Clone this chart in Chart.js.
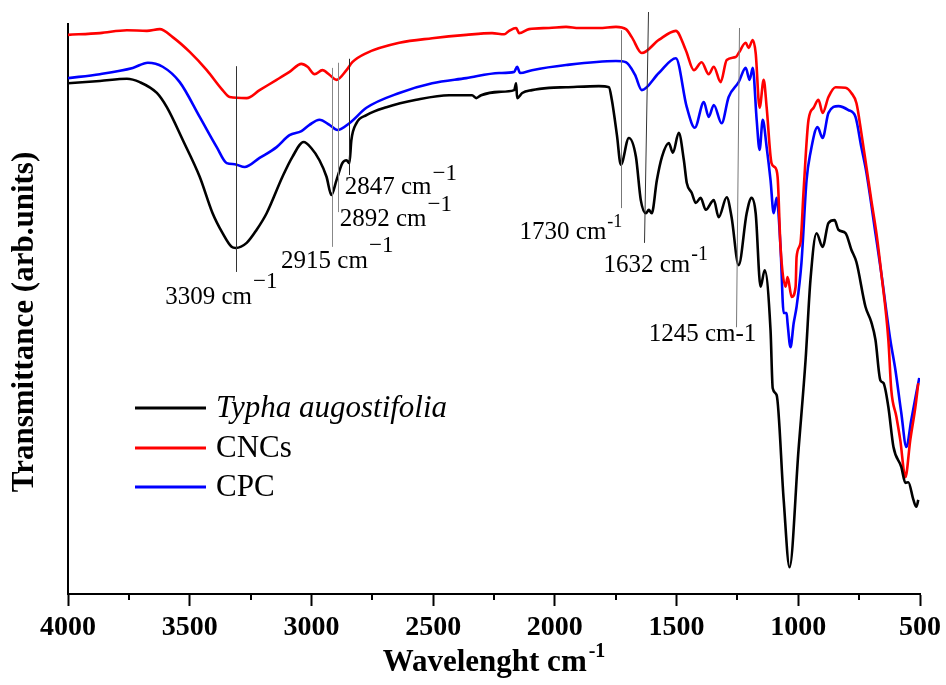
<!DOCTYPE html>
<html>
<head>
<meta charset="utf-8">
<script src="https://cdn.jsdelivr.net/npm/chart.js@4.4.0/dist/chart.umd.min.js"></script>
<style>
  html, body { margin: 0; padding: 0; background: #ffffff; }
  #wrap { width: 946px; height: 685px; }
</style>
</head>
<body>
<div id="wrap"><canvas id="ftir" width="946" height="685"></canvas></div>
<script>
// FTIR spectra: wavenumber (cm-1) and transmittance (arb. units)
const typhaWn = [4000,3869,3758,3705,3635,3594,3528,3459,3406,3365,3328,3311,3266,3225,3184,3119,3078,3032,3000,2967,2938,2918,2897,2873,2856,2844,2836,2815,2774,2692,2569,2434,2340,2323,2303,2229,2167,2159,2155,2134,2094,2024,1954,1819,1778,1766,1745,1729,1696,1667,1647,1626,1614,1602,1581,1560,1532,1515,1491,1470,1458,1438,1421,1401,1380,1347,1327,1294,1274,1245,1212,1192,1175,1155,1138,1114,1105,1089,1060,1036,999,970,950,925,900,876,851,835,806,782,761,724,700,683,663,650,630,609,577,560,548,527,515,507];
const typhaT = [89.6,90.0,90.4,89.8,87.9,85.4,79.6,73.2,66.8,63.3,60.9,60.7,61.6,63.9,66.8,73.2,76.7,79.3,78.2,76.1,73.2,70.0,72.6,75.6,76.1,75.6,79.6,82.6,84.0,85.4,86.7,87.5,87.5,87.0,87.5,88.1,88.4,89.6,87.0,87.9,88.4,88.8,88.9,89.1,88.9,86.7,80.5,75.3,80.0,76.7,69.1,66.8,67.4,66.8,72.6,76.7,79.1,77.4,80.9,76.1,72.1,70.4,68.6,69.5,67.4,69.1,66.1,69.6,66.1,57.7,66.8,69.5,66.8,53.9,56.8,46.3,36.1,34.9,16.5,4.7,25.3,41.1,55.1,63.3,60.9,65.1,65.6,63.9,63.3,60.4,58.2,50.4,47.7,44.6,37.5,37.0,32.8,25.8,22.3,19.5,19.6,16.5,15.3,16.5];

const cncWn = [4000,3869,3758,3676,3623,3570,3500,3430,3365,3336,3266,3213,3143,3090,3041,3016,2987,2955,2926,2897,2856,2832,2774,2639,2504,2364,2258,2208,2188,2159,2147,2106,2024,1954,1901,1819,1749,1708,1684,1643,1573,1503,1462,1429,1397,1368,1347,1319,1294,1257,1245,1216,1204,1187,1175,1159,1142,1130,1110,1097,1085,1073,1052,1044,1027,1011,1007,991,978,958,937,917,900,876,847,806,782,761,741,720,700,679,659,630,618,597,581,560,540,519,507];
const cncT = [98.1,98.4,98.9,98.8,99.1,97.7,95.1,91.9,88.4,87.2,87.0,88.4,90.2,91.6,93.0,92.5,91.2,91.9,91.1,90.2,91.9,93.3,94.9,96.7,97.5,98.1,98.4,98.2,98.8,99.3,98.4,99.1,99.3,99.5,99.3,99.3,99.5,99.1,97.7,94.9,97.2,98.8,95.4,91.9,93.3,91.2,92.5,89.8,93.7,94.2,94.9,96.7,95.8,97.2,94.9,85.3,90.2,85.4,75.6,74.9,73.2,60.9,53.9,55.6,52.1,53.9,59.1,61.6,70.9,83.2,85.3,86.7,84.4,87.2,88.9,88.8,87.9,86.1,80.9,74.9,69.1,63.3,56.3,44.6,35.8,31.1,27.0,20.5,27.0,32.8,37.0];

const cpcWn = [4000,3869,3734,3672,3611,3541,3459,3389,3348,3315,3274,3213,3143,3090,3041,3008,2967,2926,2893,2844,2774,2639,2504,2364,2229,2167,2155,2143,2094,1954,1749,1708,1671,1643,1573,1503,1458,1425,1388,1368,1347,1315,1286,1245,1216,1200,1187,1171,1159,1146,1130,1114,1101,1089,1073,1060,1048,1044,1032,1019,1007,987,966,950,921,900,876,835,794,765,741,720,683,659,622,601,577,556,536,515,503];
const cpcT = [90.5,91.2,92.3,93.2,92.5,89.8,83.7,78.4,75.6,75.4,74.9,76.5,78.4,80.5,81.2,82.3,83.2,82.3,81.4,82.6,85.3,87.9,89.6,90.5,91.4,91.6,92.5,91.4,91.9,92.8,93.5,93.3,91.1,88.4,91.4,94.0,85.4,81.8,86.3,83.7,85.8,82.6,87.2,89.8,92.3,90.2,92.3,83.2,77.9,83.2,78.4,72.6,66.8,69.5,60.9,49.3,49.3,47.5,43.3,47.5,50.4,58.1,72.6,77.4,81.9,80.0,84.4,85.6,84.9,83.7,78.4,73.9,63.3,56.3,44.6,39.3,31.8,25.8,30.5,35.3,37.9];

const seriesNames = ['Typha augostifolia', 'CNCs', 'CPC'];

// x-axis tick values (cm-1)
const majorTicks = [4000, 3500, 3000, 2500, 2000, 1500, 1000, 500];
const minorTicks = [3750, 3250, 2750, 2250, 1750, 1250, 750];

// assigned bands
const peakWn = [3309, 2915, 2892, 2847, 1730, 1632, 1245];
const peakText = ['3309 cm', '2915 cm', '2892 cm', '2847 cm', '1730 cm', '1632 cm', '1245 cm-1'];
const peakSup = ['\u22121', '\u22121', '\u22121', '\u22121', '-1', '-1', ''];

function pairs(xs, ys) {
  const n = Math.min(xs.length, ys.length);
  const out = [];
  for (let i = 0; i < n; i++) out.push({ x: xs[i], y: ys[i] });
  return out;
}

const SERIF = '"Liberation Serif", "Times New Roman", serif';

// leader line extents (transmittance units) and label placement around them
const leaderStyle = [
  { top: 92.6, bot: 56.5, color: '#333', dx: -71, dy: 25, sup: 23, supDy: -15 },
  { top: 92.3, bot: 60.9, color: '#888', dx: -51, dy: 15, sup: 23, supDy: -16 },
  { top: 93.2, bot: 67.0, color: '#888', dx: 2,   dy: 7,  sup: 23, supDy: -14 },
  { top: 93.9, bot: 73.5, color: '#222', dx: -4,  dy: 12, sup: 23, supDy: -13 },
  { top: 98.9, bot: 67.7, color: '#777', dx: -101, dy: 24, sup: 18, supDy: -10 },
  { top: 102.1, bot: 61.6, topWn: 1618, color: '#333', dx: -41, dy: 23, sup: 20, supDy: -11 },
  { top: 99.3, bot: 46.8, botWn: 1257, color: '#777', dx: -87, dy: 7, sup: 20, supDy: 0 }
];

const decorPlugin = {
  id: 'decor',
  afterDraw(chart) {
    const ctx = chart.ctx;
    const xs = chart.scales.x, ys = chart.scales.y;
    const area = chart.chartArea;
    ctx.save();

    // minor ticks
    ctx.strokeStyle = '#000';
    ctx.lineWidth = 2;
    minorTicks.forEach(v => {
      const px = Math.round(xs.getPixelForValue(v));
      ctx.beginPath();
      ctx.moveTo(px, area.bottom);
      ctx.lineTo(px, area.bottom + 6);
      ctx.stroke();
    });

    // band leaders and labels
    peakWn.forEach((wn, i) => {
      const st = leaderStyle[i];
      const xTop = xs.getPixelForValue(st.topWn || wn);
      const xBot = xs.getPixelForValue(st.botWn || wn);
      const yTop = ys.getPixelForValue(st.top);
      const yBot = ys.getPixelForValue(st.bot);
      ctx.strokeStyle = st.color;
      ctx.lineWidth = 1;
      ctx.beginPath();
      ctx.moveTo(Math.round(xTop) + 0.5, yTop);
      ctx.lineTo(Math.round(xBot) + 0.5, yBot);
      ctx.stroke();

      const lx = xBot + st.dx;
      const ly = yBot + st.dy;
      ctx.fillStyle = '#000';
      ctx.textBaseline = 'middle';
      ctx.textAlign = 'left';
      ctx.font = '25px ' + SERIF;
      ctx.fillText(peakText[i], lx, ly);
      if (peakSup[i]) {
        const w = ctx.measureText(peakText[i]).width;
        ctx.font = st.sup + 'px ' + SERIF;
        ctx.fillText(peakSup[i], lx + w + 1, ly + st.supDy);
      }
    });

    // legend
    const colors = chart.data.datasets.map(d => d.borderColor);
    const rowY = [408, 448, 487];
    chart.data.datasets.forEach((d, i) => {
      ctx.strokeStyle = colors[i];
      ctx.lineWidth = 3;
      ctx.beginPath();
      ctx.moveTo(135, rowY[i]);
      ctx.lineTo(206, rowY[i]);
      ctx.stroke();
      ctx.fillStyle = '#000';
      ctx.textBaseline = 'middle';
      ctx.textAlign = 'left';
      ctx.font = (i === 0 ? 'italic ' : '') + '31px ' + SERIF;
      ctx.fillText(d.label, 216, rowY[i] + 1);
    });

    // x-axis title with superscript
    const cx = (area.left + area.right) / 2;
    ctx.font = 'bold 31px ' + SERIF;
    const mainT = 'Wavelenght cm';
    const wMain = ctx.measureText(mainT).width;
    ctx.font = 'bold 20px ' + SERIF;
    const wSup = ctx.measureText('-1').width;
    const x0 = cx - (wMain + wSup + 2) / 2;
    ctx.fillStyle = '#000';
    ctx.textBaseline = 'middle';
    ctx.font = 'bold 31px ' + SERIF;
    ctx.fillText(mainT, x0, 663);
    ctx.font = 'bold 20px ' + SERIF;
    ctx.fillText('-1', x0 + wMain + 2, 652);

    // y-axis title
    ctx.translate(33, (area.top + area.bottom) / 2 + 13);
    ctx.rotate(-Math.PI / 2);
    ctx.textAlign = 'center';
    ctx.textBaseline = 'alphabetic';
    ctx.font = 'bold 31px ' + SERIF;
    ctx.fillText('Transmittance (arb.units)', 0, 0);

    ctx.restore();
  }
};

new Chart(document.getElementById('ftir'), {
  type: 'line',
  data: {
    datasets: [
      { label: seriesNames[0], data: pairs(typhaWn, typhaT), borderColor: '#000000' },
      { label: seriesNames[1], data: pairs(cncWn, cncT), borderColor: '#ff0000' },
      { label: seriesNames[2], data: pairs(cpcWn, cpcT), borderColor: '#0000ff' }
    ]
  },
  options: {
    responsive: false,
    animation: false,
    devicePixelRatio: 1,
    layout: { padding: { top: 24, right: 24, left: 0, bottom: 0 } },
    plugins: { legend: { display: false }, tooltip: { enabled: false } },
    elements: {
      point: { radius: 0 },
      line: { borderWidth: 2.6, cubicInterpolationMode: 'monotone', fill: false }
    },
    scales: {
      x: {
        type: 'linear',
        reverse: true,
        min: 500,
        max: 4000,
        afterFit(s) { s.height = 91; },
        afterBuildTicks(s) { s.ticks = majorTicks.map(v => ({ value: v })); },
        ticks: {
          autoSkip: false,
          maxRotation: 0,
          padding: 5,
          color: '#000',
          font: { family: SERIF, size: 28, weight: 'bold' },
          callback: v => String(v)
        },
        grid: {
          display: true,
          drawOnChartArea: false,
          drawTicks: true,
          tickLength: 12,
          tickWidth: 2,
          tickColor: '#000'
        },
        border: { display: true, color: '#000', width: 2 },
        title: { display: false }
      },
      y: {
        type: 'linear',
        min: 0,
        max: 100,
        afterFit(s) { s.width = 68; },
        ticks: { display: false },
        grid: { display: false, drawTicks: false },
        border: { display: true, color: '#000', width: 2 },
        title: { display: false }
      }
    }
  },
  plugins: [decorPlugin]
});
</script>
</body>
</html>
